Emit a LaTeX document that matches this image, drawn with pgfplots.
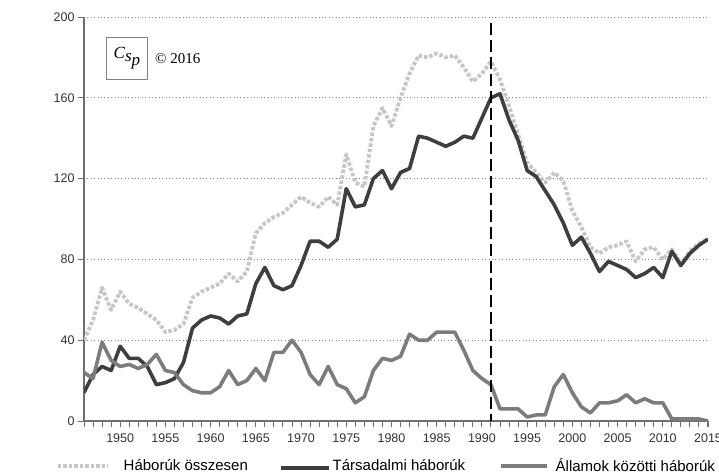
\documentclass[border=0pt]{standalone}
\usepackage{fontspec}
\setmainfont{Liberation Sans}
\newfontfamily\seriffont{Liberation Serif}
\usepackage{pgfplots}
\pgfplotsset{compat=1.18}
\usepackage{pgfplotstable}

\definecolor{cTotal}{HTML}{C6C6C6}
\definecolor{cSocial}{HTML}{3E3E3E}
\definecolor{cInter}{HTML}{7C7C7C}
\definecolor{cAxis}{HTML}{6E6E6E}

\pgfplotstableread{
year total social inter
1946 40 14 24
1947 50 23 21
1948 66 27 39
1949 55 25 30
1950 64 37 27
1951 58 31 28
1952 56 31 26
1953 53 27 28
1954 50 18 33
1955 44 19 25
1956 45 21 24
1957 48 29 18
1958 61 46 15
1959 64 50 14
1960 66 52 14
1961 68 51 17
1962 73 48 25
1963 69 52 18
1964 74 53 20
1965 93 68 26
1966 98 76 20
1967 101 67 34
1968 103 65 34
1969 107 67 40
1970 111 77 34
1971 108 89 23
1972 106 89 18
1973 111 86 27
1974 107 90 18
1975 132 115 16
1976 118 106 9
1977 116 107 12
1978 146 120 25
1979 155 124 31
1980 146 115 30
1981 160 123 32
1982 172 125 43
1983 181 141 40
1984 180 140 40
1985 182 138 44
1986 180 136 44
1987 181 138 44
1988 175 141 35
1989 168 140 25
1990 172 150 21
1991 178 160 18
1992 169 162 6
1993 156 149 6
1994 142 139 6
1995 128 124 2
1996 123 121 3
1997 118 114 3
1998 123 107 17
1999 119 98 23
2000 104 87 14
2001 96 91 7
2002 86 83 4
2003 83 74 9
2004 86 79 9
2005 87 77 10
2006 89 75 13
2007 79 71 9
2008 85 73 11
2009 86 76 9
2010 80 71 9
2011 85 84 1
2012 78 77 1
2013 84 83 1
2014 88 87 1
2015 90 90 0
}\wardata

\begin{document}
\begin{tikzpicture}[x=1pt,y=1pt]
\useasboundingbox (0,0) rectangle (719,475);
\begin{axis}[
  at={(84pt,54pt)}, anchor=south west,
  scale only axis, width=624pt, height=404pt,
  xmin=1946, xmax=2015, ymin=0, ymax=200,
  axis lines=left,
  axis line style={draw=cAxis, line width=1.3pt, -},
  xtick={1950,1955,...,2015},
  minor xtick={1946,1947,...,2015},
  ytick={0,40,...,200},
  tick align=outside,
  major tick length=6pt, minor tick length=6pt,
  every tick/.style={draw=cAxis, line width=0.9pt},
  ymajorgrids,
  grid style={draw=gray, line width=0.8pt, dash pattern=on 0.8pt off 2.6pt},
  /pgf/number format/assume math mode=true,
  /pgf/number format/1000 sep={},
  tick label style={font=\fontsize{12.5}{13}\selectfont, text=black!80},
  xticklabel style={yshift=-3pt},
  legend columns=3,
  legend style={
    at={(axis description cs:-0.0449,-0.1114)}, anchor=west,
    draw=none, fill=none, inner sep=0pt,
    font=\fontsize{15}{15}\selectfont,
    cells={anchor=west},
    nodes={inner xsep=0pt, inner ysep=1pt},
    /tikz/column 1/.style={column sep=14pt},
    /tikz/column 2/.style={column sep=0pt},
    /tikz/column 3/.style={column sep=2pt},
    /tikz/column 4/.style={column sep=0pt},
    /tikz/column 5/.style={column sep=7pt},
  },
]
\addplot[cTotal, line width=3.8pt, dash pattern=on 3.5pt off 2pt, line join=round,
  legend image code/.code={\draw[cTotal, line width=3.5pt, dash pattern=on 3.5pt off 2pt] (0pt,0pt) -- (50pt,0pt);}]
  table[x=year, y=total] {\wardata};
\addlegendentry{\makebox[155pt][l]{Háborúk összesen}}
\addplot[cSocial, line width=3.6pt, line join=round,
  legend image code/.code={\draw[cSocial, line width=4pt] (0pt,-2pt) -- (48pt,-2pt);}]
  table[x=year, y=social] {\wardata};
\addlegendentry{\makebox[166pt][l]{Társadalmi háborúk}}
\addplot[cInter, line width=3.6pt, line join=round,
  legend image code/.code={\draw[cInter, line width=4pt] (0pt,0pt) -- (46pt,0pt);}]
  table[x=year, y=inter] {\wardata};
\addlegendentry{Államok közötti háborúk}
\addplot[black, line width=2.6pt, dash pattern=on 12pt off 5pt, forget plot]
  coordinates {(1991,197) (1991,0)};

\node[rotate=90, font=\fontsize{18}{18}\selectfont] at (axis description cs:-0.1026,0.428) {A háborúk kiterjedtsége};
\node[draw=gray, line width=0.8pt, fill=white, minimum width=41pt, minimum height=42pt, inner sep=0pt, anchor=north west]
  at (axis description cs:0.0353,0.9505) {\seriffont\itshape\fontsize{17}{17}\selectfont C\raisebox{-3pt}{s}\raisebox{-7pt}{p}};
\node[anchor=west, inner sep=0pt, font=\seriffont\fontsize{15}{15}\selectfont] at (axis description cs:0.1138,0.896) {© 2016};
\end{axis}
\end{tikzpicture}
\end{document}
